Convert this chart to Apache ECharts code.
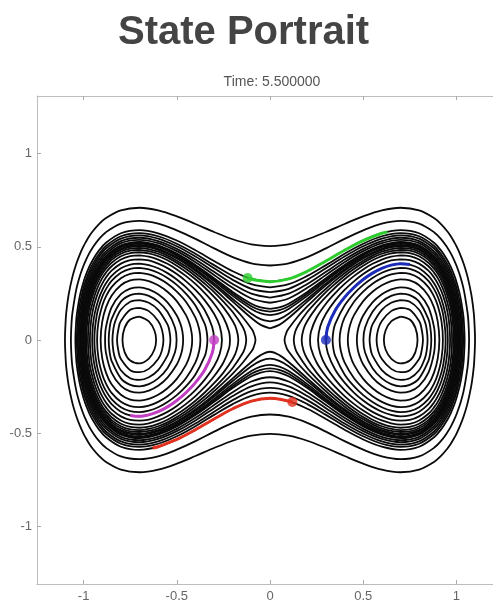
<!DOCTYPE html>
<html>
<head>
<meta charset="utf-8">
<script src="https://cdn.jsdelivr.net/npm/echarts@6/dist/echarts.min.js"></script>
<style>
  html, body { margin: 0; padding: 0; background: #fff; }
  #chart { width: 493px; height: 601px; }
</style>
</head>
<body>
<div id="chart"></div>
<script>
var xTicks = [-1, -0.5, 0, 0.5, 1];
var yTicks = [-1, -0.5, 0, 0.5, 1];

// orbits around both wells, upper right quarter (x from 0 to the turning point)
var outerA = [[0,0.504],[0.1,0.514],[0.2,0.541],[0.3,0.58],[0.4,0.623],[0.5,0.664],[0.6,0.696],[0.7,0.71],[0.8,0.696],[0.88,0.655],[0.92,0.62],[0.95,0.585],[0.97,0.557],[0.99,0.523],[1.0,0.504],[1.02,0.46],[1.04,0.407],[1.06,0.339],[1.08,0.245],[1.09,0.174],[1.095,0.124],[1.1,0]];
var outerB = [[0,0.4],[0.1,0.412],[0.2,0.445],[0.3,0.492],[0.4,0.543],[0.5,0.589],[0.6,0.625],[0.7,0.64],[0.8,0.625],[0.88,0.579],[0.92,0.539],[0.95,0.498],[0.97,0.465],[0.99,0.424],[1.0,0.4],[1.02,0.344],[1.04,0.268],[1.06,0.145],[1.065,0.088],[1.068,0]];
var outerC = [[0,0.313],[0.1,0.328],[0.2,0.369],[0.3,0.424],[0.4,0.482],[0.5,0.534],[0.6,0.573],[0.7,0.59],[0.8,0.573],[0.88,0.522],[0.92,0.477],[0.95,0.431],[0.97,0.392],[0.99,0.343],[1.0,0.313],[1.02,0.237],[1.035,0.148],[1.04,0.099],[1.044,0]];
var outerD = [[0,0.283],[0.1,0.3],[0.2,0.344],[0.3,0.402],[0.4,0.463],[0.5,0.517],[0.6,0.557],[0.7,0.574],[0.8,0.557],[0.88,0.505],[0.92,0.458],[0.95,0.41],[0.97,0.369],[0.99,0.315],[1.0,0.283],[1.02,0.195],[1.03,0.125],[1.0365,0]];
var outerE = [[0,0.257],[0.1,0.275],[0.2,0.323],[0.3,0.385],[0.4,0.448],[0.5,0.503],[0.6,0.544],[0.7,0.562],[0.8,0.544],[0.88,0.491],[0.92,0.443],[0.95,0.392],[0.97,0.349],[0.99,0.292],[1.0,0.257],[1.02,0.155],[1.025,0.113],[1.0306,0]];
var outerF = [[0,0.228],[0.1,0.249],[0.2,0.301],[0.3,0.366],[0.4,0.432],[0.5,0.489],[0.6,0.531],[0.7,0.549],[0.8,0.531],[0.88,0.476],[0.92,0.427],[0.95,0.374],[0.97,0.328],[0.99,0.267],[1.0,0.228],[1.015,0.144],[1.02,0.1],[1.0245,0]];
var outerG = [[0,0.2],[0.1,0.223],[0.2,0.28],[0.3,0.349],[0.4,0.418],[0.5,0.477],[0.6,0.52],[0.7,0.538],[0.8,0.52],[0.88,0.463],[0.92,0.412],[0.95,0.358],[0.97,0.31],[0.99,0.244],[1.0,0.2],[1.01,0.139],[1.019,0]];
var outerH = [[0,0.167],[0.05,0.175],[0.1,0.195],[0.2,0.258],[0.3,0.332],[0.4,0.403],[0.5,0.464],[0.6,0.508],[0.7,0.527],[0.8,0.508],[0.88,0.45],[0.92,0.397],[0.95,0.341],[0.97,0.289],[0.99,0.218],[1.0,0.167],[1.01,0.086],[1.0135,0]];
var outerI = [[0,0.152],[0.05,0.16],[0.1,0.181],[0.2,0.248],[0.3,0.324],[0.4,0.397],[0.5,0.459],[0.6,0.503],[0.7,0.522],[0.8,0.503],[0.88,0.445],[0.92,0.391],[0.95,0.333],[0.97,0.281],[0.99,0.206],[1.0,0.152],[1.005,0.114],[1.01,0.049],[1.0112,0]];
var outerJ = [[0,0.134],[0.05,0.143],[0.1,0.167],[0.2,0.237],[0.3,0.316],[0.4,0.39],[0.5,0.453],[0.6,0.498],[0.7,0.518],[0.8,0.498],[0.88,0.439],[0.92,0.385],[0.95,0.326],[0.97,0.272],[0.99,0.193],[1.0,0.134],[1.005,0.089],[1.0088,0]];
var outerK = [[0,0.1],[0.05,0.112],[0.1,0.141],[0.2,0.22],[0.3,0.303],[0.4,0.38],[0.5,0.444],[0.6,0.49],[0.7,0.51],[0.8,0.49],[0.88,0.43],[0.92,0.374],[0.95,0.313],[0.97,0.257],[0.99,0.171],[1.0,0.1],[1.005,0]];
var outerL = [[0,0.063],[0.05,0.081],[0.1,0.118],[0.2,0.206],[0.3,0.293],[0.4,0.372],[0.5,0.438],[0.6,0.484],[0.7,0.504],[0.8,0.484],[0.88,0.423],[0.92,0.366],[0.95,0.303],[0.97,0.245],[0.99,0.153],[1.0,0.063],[1.002,0]];

// orbits inside the right well, upper half (left turning point to right turning point)
var innerA = [[0.611,0],[0.62,0.051],[0.65,0.1],[0.7,0.126],[0.75,0.11],[0.78,0.065],[0.7915,0]];
var innerB = [[0.5717,0],[0.58,0.057],[0.6,0.102],[0.65,0.155],[0.7,0.173],[0.75,0.162],[0.8,0.102],[0.81,0.075],[0.8205,0]];
var innerC = [[0.5343,0],[0.54,0.051],[0.55,0.084],[0.6,0.162],[0.65,0.2],[0.7,0.214],[0.75,0.205],[0.8,0.162],[0.83,0.101],[0.84,0.061],[0.8453,0]];
var innerD = [[0.501,0],[0.51,0.067],[0.55,0.152],[0.6,0.206],[0.65,0.237],[0.7,0.249],[0.75,0.241],[0.8,0.206],[0.85,0.112],[0.86,0.068],[0.8654,0]];
var innerE = [[0.466,0],[0.47,0.046],[0.48,0.085],[0.5,0.132],[0.55,0.202],[0.6,0.246],[0.65,0.272],[0.7,0.283],[0.75,0.276],[0.8,0.246],[0.85,0.175],[0.88,0.069],[0.8848,0]];
var innerF = [[0.4176,0],[0.42,0.036],[0.43,0.082],[0.45,0.132],[0.5,0.209],[0.55,0.259],[0.6,0.294],[0.65,0.316],[0.7,0.325],[0.75,0.32],[0.8,0.294],[0.85,0.238],[0.88,0.175],[0.9,0.099],[0.9086,0]];
var innerG = [[0.3734,0],[0.38,0.059],[0.4,0.12],[0.45,0.204],[0.5,0.26],[0.55,0.302],[0.6,0.332],[0.65,0.352],[0.7,0.36],[0.75,0.355],[0.8,0.332],[0.85,0.284],[0.88,0.234],[0.9,0.184],[0.92,0.1],[0.9277,0]];
var innerH = [[0.3357,0],[0.34,0.047],[0.35,0.087],[0.4,0.185],[0.45,0.248],[0.5,0.296],[0.55,0.333],[0.6,0.361],[0.65,0.379],[0.7,0.387],[0.75,0.382],[0.8,0.361],[0.85,0.317],[0.88,0.273],[0.9,0.232],[0.92,0.173],[0.93,0.13],[0.94,0.053],[0.942,0]];
var innerI = [[0.3002,0],[0.31,0.07],[0.35,0.16],[0.4,0.229],[0.45,0.282],[0.5,0.325],[0.55,0.359],[0.6,0.385],[0.65,0.402],[0.7,0.41],[0.75,0.405],[0.8,0.385],[0.85,0.344],[0.88,0.305],[0.9,0.268],[0.92,0.219],[0.94,0.144],[0.95,0.077],[0.9539,0]];
var innerJ = [[0.2577,0],[0.27,0.075],[0.3,0.141],[0.35,0.213],[0.4,0.269],[0.45,0.315],[0.5,0.354],[0.55,0.386],[0.6,0.41],[0.65,0.427],[0.7,0.433],[0.75,0.429],[0.8,0.41],[0.85,0.372],[0.88,0.336],[0.9,0.303],[0.92,0.261],[0.94,0.202],[0.95,0.161],[0.96,0.101],[0.9662,0]];
var innerK = [[0.2147,0],[0.22,0.046],[0.25,0.121],[0.3,0.195],[0.35,0.252],[0.4,0.301],[0.45,0.343],[0.5,0.379],[0.55,0.409],[0.6,0.432],[0.65,0.447],[0.7,0.454],[0.75,0.45],[0.8,0.432],[0.85,0.396],[0.88,0.362],[0.9,0.332],[0.92,0.293],[0.94,0.242],[0.96,0.168],[0.97,0.109],[0.9767,0]];
var innerL = [[0.1698,0],[0.18,0.058],[0.2,0.102],[0.25,0.175],[0.3,0.232],[0.35,0.282],[0.4,0.326],[0.45,0.365],[0.5,0.399],[0.55,0.428],[0.6,0.45],[0.65,0.465],[0.7,0.471],[0.75,0.467],[0.8,0.45],[0.85,0.415],[0.88,0.383],[0.9,0.355],[0.92,0.319],[0.94,0.273],[0.96,0.21],[0.97,0.167],[0.98,0.1],[0.9855,0]];
var innerM = [[0.1275,0],[0.135,0.044],[0.15,0.077],[0.2,0.15],[0.25,0.206],[0.3,0.257],[0.35,0.302],[0.4,0.344],[0.45,0.381],[0.5,0.414],[0.55,0.442],[0.6,0.463],[0.65,0.477],[0.7,0.484],[0.75,0.48],[0.8,0.463],[0.85,0.43],[0.88,0.398],[0.9,0.371],[0.92,0.338],[0.94,0.295],[0.96,0.237],[0.97,0.2],[0.98,0.148],[0.99,0.058],[0.9918,0]];
var innerN = [[0.0778,0],[0.09,0.045],[0.1,0.062],[0.15,0.126],[0.2,0.18],[0.25,0.229],[0.3,0.275],[0.35,0.319],[0.4,0.358],[0.45,0.394],[0.5,0.426],[0.55,0.453],[0.6,0.474],[0.65,0.488],[0.7,0.494],[0.75,0.49],[0.8,0.474],[0.85,0.441],[0.88,0.411],[0.9,0.385],[0.92,0.352],[0.94,0.311],[0.96,0.257],[0.97,0.223],[0.98,0.179],[0.99,0.116],[0.997,0]];

// highlighted trajectories (start point first)
var greenPath = [[-0.12,0.333],[-0.06,0.319],[0,0.313],[0.1,0.328],[0.2,0.369],[0.3,0.424],[0.4,0.482],[0.5,0.534],[0.6,0.573],[0.63,0.58]];
var redPath = [[0.12,-0.333],[0.06,-0.319],[0,-0.313],[-0.1,-0.328],[-0.2,-0.369],[-0.3,-0.424],[-0.4,-0.482],[-0.5,-0.534],[-0.6,-0.573],[-0.63,-0.58]];
var bluePath = [[0.3,0],[0.31,0.07],[0.35,0.16],[0.4,0.229],[0.45,0.282],[0.5,0.325],[0.55,0.359],[0.6,0.385],[0.65,0.402],[0.7,0.41],[0.75,0.405]];
var magentaPath = [[-0.3,0],[-0.31,-0.07],[-0.35,-0.16],[-0.4,-0.229],[-0.45,-0.282],[-0.5,-0.325],[-0.55,-0.359],[-0.6,-0.385],[-0.65,-0.402],[-0.7,-0.41],[-0.75,-0.405]];

var outerList = [outerA, outerB, outerC, outerD, outerE, outerF, outerG, outerH, outerI, outerJ, outerK, outerL];
var innerList = [innerA, innerB, innerC, innerD, innerE, innerF, innerG, innerH, innerI, innerJ, innerK, innerL, innerM, innerN];

// quarter curve -> closed loop, mirrored on both axes
function outerLoop(q) {
    var ur = q;
    var lr = q.slice(0, -1).reverse().map(function (p) { return [p[0], -p[1]]; });
    var ll = q.slice(1).map(function (p) { return [-p[0], -p[1]]; });
    var ul = q.slice(0, -1).reverse().map(function (p) { return [-p[0], p[1]]; });
    return ur.concat(lr, ll, ul);
}

// upper half -> closed loop starting at the top, sx = 1 right well, -1 left well
function innerLoop(h, sx) {
    var full = h.concat(h.slice(0, -1).reverse().map(function (p) { return [p[0], -p[1]]; }));
    var k = Math.floor(h.length / 2);
    var ring = full.slice(k).concat(full.slice(1, k + 1));
    return ring.map(function (p) { return [sx * p[0], p[1]]; });
}

var series = [];
function addCurve(pts) {
    series.push({
        type: 'line', data: pts, smooth: 0.35, showSymbol: false, silent: true,
        lineStyle: { color: '#0a0a0a', width: 1.8 }, z: 2
    });
}
outerList.forEach(function (q) { addCurve(outerLoop(q)); });
innerList.forEach(function (h) { addCurve(innerLoop(h, 1)); addCurve(innerLoop(h, -1)); });

function addPath(pts, color) {
    series.push({
        type: 'line', data: pts, smooth: 0.35, showSymbol: false, silent: true,
        lineStyle: { color: color, width: 3 }, z: 3
    });
    series.push({
        type: 'scatter', data: [pts[0]], symbolSize: 10, silent: true,
        itemStyle: { color: color }, z: 4
    });
}
addPath(greenPath, '#2fcc2f');
addPath(bluePath, '#1c2bb8');
addPath(magentaPath, '#c23fc4');
addPath(redPath, '#e2311f');

var chart = echarts.init(document.getElementById('chart'));

var axisBase = {
    type: 'value',
    axisLine: { show: true, onZero: false, lineStyle: { color: '#bdbdbd', width: 1 } },
    splitLine: { show: false }
};

chart.setOption({
    animation: false,
    backgroundColor: '#fff',
    title: [{
        text: 'State Portrait',
        left: 113, top: 8,
        textStyle: { fontFamily: 'Liberation Sans', fontWeight: 'bold', fontSize: 40, color: '#444' }
    }, {
        text: 'Time: 5.500000',
        left: 267, top: 70, textAlign: 'center',
        textStyle: { fontFamily: 'Liberation Sans', fontWeight: 'normal', fontSize: 14, color: '#555' }
    }],
    grid: { left: 37, top: 96, width: 466, height: 488, outerBoundsMode: 'none', containLabel: false },
    xAxis: [
        echarts.util.merge({
            min: -1.25, max: 1.25, position: 'bottom',
            axisTick: { show: true, inside: true, length: 4, customValues: xTicks, lineStyle: { color: '#aaa' } },
            axisLabel: { show: true, customValues: xTicks, color: '#666', fontSize: 13, margin: 6 }
        }, axisBase),
        echarts.util.merge({
            min: -1.25, max: 1.25, position: 'top',
            axisTick: { show: true, inside: true, length: 4, customValues: xTicks, lineStyle: { color: '#aaa' } },
            axisLabel: { show: false }
        }, axisBase)
    ],
    yAxis: [
        echarts.util.merge({
            min: -1.31, max: 1.31, position: 'left',
            axisTick: { show: true, inside: true, length: 4, customValues: yTicks, lineStyle: { color: '#aaa' } },
            axisLabel: { show: true, customValues: yTicks, color: '#666', fontSize: 13, margin: 5 }
        }, axisBase),
        echarts.util.merge({
            min: -1.31, max: 1.31, position: 'right',
            axisTick: { show: true, inside: true, length: 4, customValues: yTicks, lineStyle: { color: '#aaa' } },
            axisLabel: { show: false }
        }, axisBase)
    ],
    series: series
});
</script>
</body>
</html>
